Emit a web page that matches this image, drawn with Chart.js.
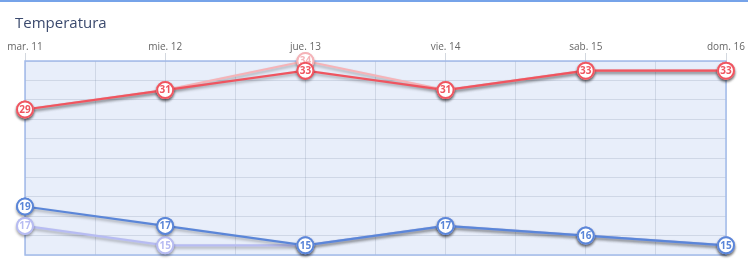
<!DOCTYPE html>
<html>
<head>
<meta charset="utf-8">
<script src="https://cdn.jsdelivr.net/npm/chart.js@4/dist/chart.umd.min.js"></script>
<style>
  html, body { margin: 0; padding: 0; background: #fff; }
  #wrap { position: relative; width: 748px; height: 261px; overflow: hidden; }
  #topline { position: absolute; left: 0; top: 0; width: 748px; height: 2px; background: #76a3e9; }
  #title { position: absolute; left: 15px; top: 12px; font: 15px/20px "Open Sans", sans-serif; color: #3b4a6e; }
  canvas { position: absolute; left: 0; top: 0; }
</style>
</head>
<body>
<div id="wrap">
  <canvas id="temp_chart" width="748" height="261"></canvas>
  <div id="topline"></div>
  <div id="title">Temperatura</div>
</div>
<script>
// datos del gráfico
const days = ['mar. 11', 'mie. 12', 'jue. 13', 'vie. 14', 'sab. 15', 'dom. 16'];
const maxTemps = [29, 31, 33, 31, 33, 33];     // máxima
const maxPrev = [29, 31, 34, 31, 33, 33];      // máxima anterior (tenue)
const minTemps = [19, 17, 15, 17, 16, 15];     // mínima
const minPrev = [17, 15, 15, 17, 16, 15];      // mínima anterior (tenue)
const yMin = 14;
const yMax = 34;
const yStep = 2;

const R = 8; // radio del punto

const toPoints = arr => arr.map((v, i) => ({ x: i, y: v }));

function serie(data, color, width) {
  return {
    data: toPoints(data),
    borderColor: color,
    borderWidth: width,
    pointRadius: R,
    pointHoverRadius: R,
    pointBorderWidth: 2,
    pointBackgroundColor: '#ffffff',
    pointBorderColor: color,
    tension: 0,
    clip: false
  };
}

// fondo, borde, sombras y etiquetas
const areaPlugin = {
  id: 'area',
  beforeDraw(chart) {
    const a = chart.chartArea, ctx = chart.ctx;
    ctx.save();
    ctx.fillStyle = '#e8eefa';
    ctx.fillRect(a.left, a.top, a.right - a.left, a.bottom - a.top);
    ctx.restore();
  },
  beforeDatasetsDraw(chart) {
    const a = chart.chartArea, ctx = chart.ctx;
    ctx.save();
    ctx.strokeStyle = '#a2bbea';
    ctx.lineWidth = 1.5;
    ctx.strokeRect(a.left, a.top, a.right - a.left, a.bottom - a.top);
    ctx.restore();
  },
  beforeDatasetDraw(chart) {
    const ctx = chart.ctx;
    ctx.save();
    ctx.shadowColor = 'rgba(0,0,0,0.3)';
    ctx.shadowBlur = 3;
    ctx.shadowOffsetY = 2;
  },
  afterDatasetDraw(chart) {
    chart.ctx.restore();
  },
  afterDatasetsDraw(chart) {
    const ctx = chart.ctx;
    ctx.save();
    ctx.font = 'bold 10px "Open Sans", sans-serif';
    ctx.textAlign = 'center';
    ctx.textBaseline = 'middle';
    for (let d = chart.data.datasets.length - 1; d >= 0; d--) {
      const ds = chart.data.datasets[d];
      const meta = chart.getDatasetMeta(d);
      meta.data.forEach((pt, i) => {
        ctx.beginPath();
        ctx.fillStyle = '#ffffff';
        ctx.strokeStyle = ds.borderColor;
        ctx.lineWidth = 2;
        ctx.arc(pt.x, pt.y, R, 0, Math.PI * 2);
        ctx.fill();
        ctx.stroke();
        ctx.fillStyle = ds.borderColor;
        ctx.fillText(String(ds.data[i].y), pt.x, pt.y + 0.5);
      });
    }
    ctx.restore();
  }
};

const cfg = {
  type: 'line',
  data: {
    datasets: [
      serie(maxTemps, '#ef5560', 2.2),
      serie(minTemps, '#5b86d8', 2.2),
      serie(maxPrev, '#f5b3b8', 2.2),
      serie(minPrev, '#b7bcf2', 2.2)
    ]
  },
  options: {
    responsive: false,
    animation: false,
    events: [],
    layout: { autoPadding: false, padding: { top: 36, left: 25, right: 22, bottom: 6 } },
    plugins: {
      legend: { display: false },
      tooltip: { enabled: false },
      title: { display: false }
    },
    scales: {
      x: {
        type: 'linear',
        position: 'top',
        min: 0,
        max: days.length - 1,
        afterFit(s) { s.height = 25; },
        border: { display: false },
        grid: {
          color: 'rgba(110,125,150,0.2)',
          tickColor: ctx => Number.isInteger(ctx.tick.value) ? 'rgba(110,125,150,0.3)' : 'transparent',
          tickLength: 8,
          drawTicks: true
        },
        ticks: {
          stepSize: 0.5,
          autoSkip: false,
          maxRotation: 0,
          padding: 0,
          color: '#666',
          font: { family: "'Open Sans', sans-serif", size: 10 },
          callback: v => Number.isInteger(v) ? days[v] : ''
        }
      },
      y: {
        min: yMin,
        max: yMax,
        afterFit(s) { s.width = 0; },
        border: { display: false },
        grid: { color: 'rgba(110,125,150,0.2)', drawTicks: false },
        ticks: { display: false, stepSize: yStep }
      }
    }
  },
  plugins: [areaPlugin]
};

const temp_chart = new Chart(document.getElementById('temp_chart').getContext('2d'), cfg);
</script>
</body>
</html>
